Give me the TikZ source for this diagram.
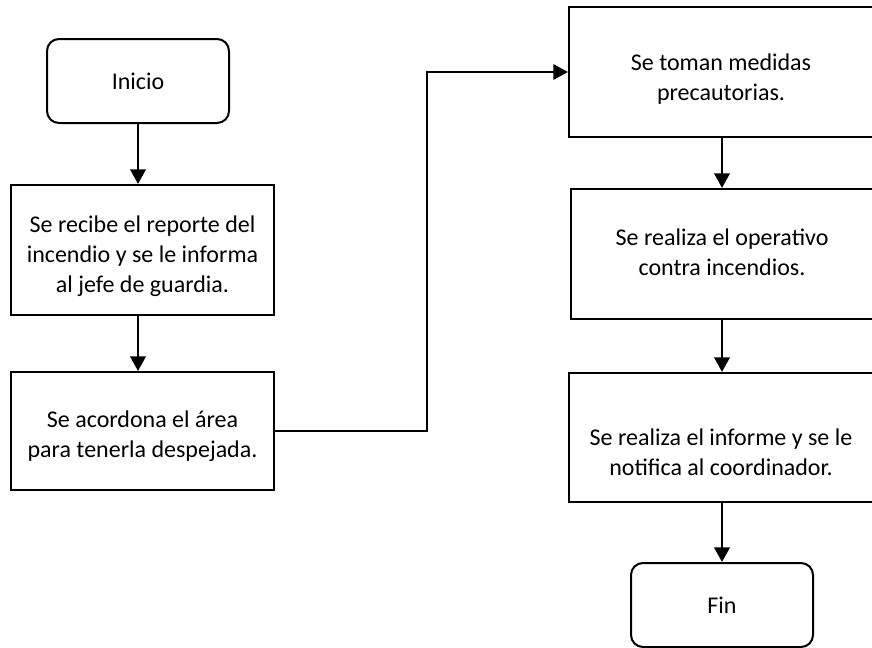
\documentclass[tikz,border=0pt]{standalone}
\usepackage{fontspec}
\setmainfont{Carlito}
\usetikzlibrary{arrows.meta}

\begin{document}
\begin{tikzpicture}[x=0.75pt,y=-0.75pt]
			\tikzstyle{every node}+=[font=\fontsize{18}{22.5}\selectfont, align=center, inner sep=0pt]
			\tikzstyle{caja}=[draw=black, line width=1.5pt, rectangle]
			\tikzstyle{limite}=[caja, rounded corners=9pt, minimum width=136.5pt, minimum height=63pt]
			\tikzstyle{flecha}=[line width=2.2pt, -{Triangle[width=11.5pt,length=11pt]}]
			\tikzstyle{enlace}=[line width=1.5pt, -{Triangle[width=11.5pt,length=11pt]}]
			\clip (0,0) rectangle (872,647);
			\node [limite] (inicio) at (138,81) {Inicio};
			\node [caja, minimum width=197.25pt, minimum height=97.5pt, label={[yshift=-4.5pt]center:Se recibe el reporte del\\incendio y se le informa\\al jefe de guardia.}] (recibe) at (142.5,250) {};
			\node [caja, minimum width=197.25pt, minimum height=88.5pt, label={[yshift=-3.75pt]center:Se acordona el área\\para tenerla despejada.}] (acordona) at (142.5,431) {};
			\node [caja, minimum width=228pt, minimum height=97.5pt, label={[yshift=-5.25pt]center:Se toman medidas\\precautorias.}] (toman) at (721,72) {};
			\node [caja, minimum width=226.5pt, minimum height=97.5pt, label={[yshift=1.5pt]center:Se realiza el operativo\\contra incendios.}] (operativo) at (722,254) {};
			\node [caja, minimum width=228pt, minimum height=96.75pt, label={[yshift=-11.25pt]center:Se realiza el informe y se le\\notifica al coordinador.}] (informe) at (721,437.5) {};
			\node [limite] (fin) at (722,605) {Fin};
			\coordinate (codo) at (427,431);
			\draw [flecha] (inicio.south) -- (inicio.south |- recibe.north);
			\draw [flecha] (recibe.south -| inicio.south) -- (acordona.north -| inicio.south);
			\draw [enlace] (acordona.east) -- (codo) |- (toman.west);
			\draw [flecha] (operativo.north |- toman.south) -- (operativo.north);
			\draw [flecha] (operativo.south) -- (operativo.south |- informe.north);
			\draw [flecha] (fin.north |- informe.south) -- (fin.north);
		\end{tikzpicture}
\end{document}
